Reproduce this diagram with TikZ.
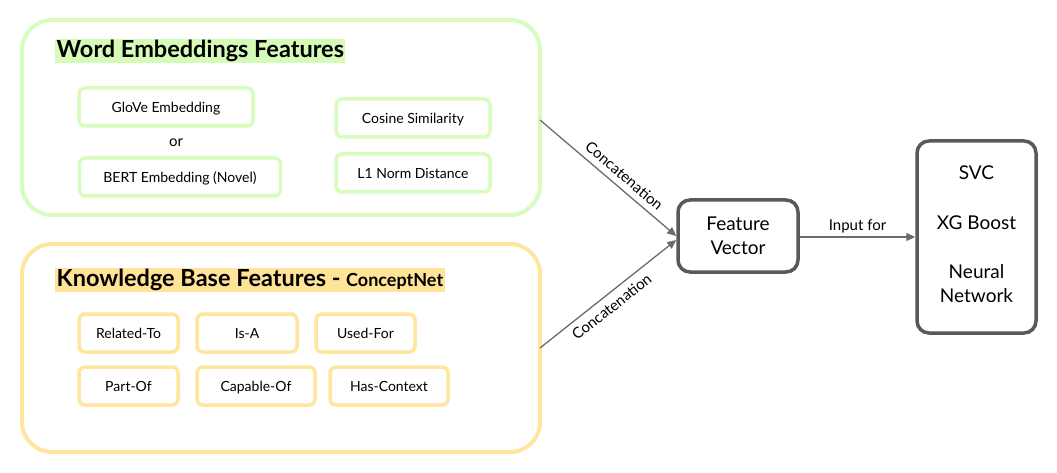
\documentclass[tikz,border=0pt]{standalone}
\usepackage{fontspec}
\setmainfont{Lato}
\usetikzlibrary{arrows.meta}
\definecolor{wgreen}{HTML}{D8FBBE}
\definecolor{wgreenhl}{HTML}{D6FAB8}
\definecolor{kyellow}{HTML}{FFE59E}
\definecolor{kyellowhl}{HTML}{FFE398}
\definecolor{boxgray}{HTML}{595959}
\definecolor{arrgray}{HTML}{6B6B6B}
\tikzset{group/.style={draw=#1, line width=4pt, rounded corners=30pt, inner sep=0pt},
feat/.style={draw=#1, line width=3.5pt, rounded corners=6pt, minimum height=38pt, inner sep=0pt, text height=12pt, text depth=1pt, font=\fontsize{14}{16}\selectfont},
title/.style={fill=#1, inner sep=1.5pt, anchor=west, font=\fontsize{23.5}{28}\selectfont\bfseries},
stage/.style={draw=boxgray, line width=3.5pt, rounded corners=12pt, inner sep=0pt, align=center, font=\fontsize{19}{24}\selectfont},
link/.style={draw=arrgray, line width=1.3pt, -{Triangle[length=9pt,width=8pt]}},
linklabel/.style={font=\fontsize{15}{17}\selectfont, inner sep=6pt}}

\begin{document}
\begin{tikzpicture}[x=1pt, y=-1pt]
\useasboundingbox (0,0) rectangle (1057,473);

% word embeddings group
\node[group=wgreen, minimum width=518pt, minimum height=195pt] (wframe) at (281,117.5) {};
\node[title=wgreenhl] (wtitle) at (55,51) {Word Embeddings Features};
\node[feat=wgreen, minimum width=174pt] (glove) at (166,107) {GloVe Embedding};
\node[font=\fontsize{15}{17}\selectfont] (or) at (176,143) {or};
\node[feat=wgreen, minimum width=201pt] (bert) at (180,177) {BERT Embedding (Novel)};
\node[feat=wgreen, minimum width=154pt] (cosine) at (413,118) {Cosine Similarity};
\node[feat=wgreen, minimum width=154pt] (lnorm) at (413,173) {L1 Norm Distance};

% knowledge base group
\node[group=kyellow, minimum width=518pt, minimum height=208pt] (kframe) at (281,348) {};
\node[title=kyellowhl] (ktitle) at (55,280) {Knowledge Base Features - {\fontsize{18}{20}\selectfont ConceptNet}};
\node[feat=kyellow, minimum width=99pt] (related) at (128.5,333) {Related-To};
\node[feat=kyellow, minimum width=100pt] (isa) at (247,333) {Is-A};
\node[feat=kyellow, minimum width=99pt] (usedfor) at (365.5,333) {Used-For};
\node[feat=kyellow, minimum width=99pt] (partof) at (128.5,386) {Part-Of};
\node[feat=kyellow, minimum width=118pt] (capable) at (256,386) {Capable-Of};
\node[feat=kyellow, minimum width=118pt] (context) at (389,386) {Has-Context};

% pipeline
\node[stage, minimum width=120pt, minimum height=72pt] (fvec) at (738,236) {Feature\\Vector};
\node[stage, minimum width=119pt, minimum height=192pt] (models) at (976.5,237) {};
\node[font=\fontsize{19}{22}\selectfont] (svc) at (976.5,173) {SVC};
\node[font=\fontsize{19}{22}\selectfont] (xgb) at (976.5,223) {XG Boost};
\node[font=\fontsize{19}{24}\selectfont, align=center] (nn) at (976.5,284) {Neural\\Network};

\coordinate (wout) at (540,120);
\coordinate (kout) at (540,348);
\draw[link] (wout) -- (fvec.west |- 0,236) node[linklabel, pos=0.56, sloped, above] {Concatenation};
\draw[link] (kout) -- (fvec.west |- 0,240) node[linklabel, pos=0.47, sloped, below] {Concatenation};
\draw[link] (fvec.east |- 0,237) -- (models.west |- 0,237) node[linklabel, inner sep=3pt, midway, above] {Input for};

\end{tikzpicture}
\end{document}
